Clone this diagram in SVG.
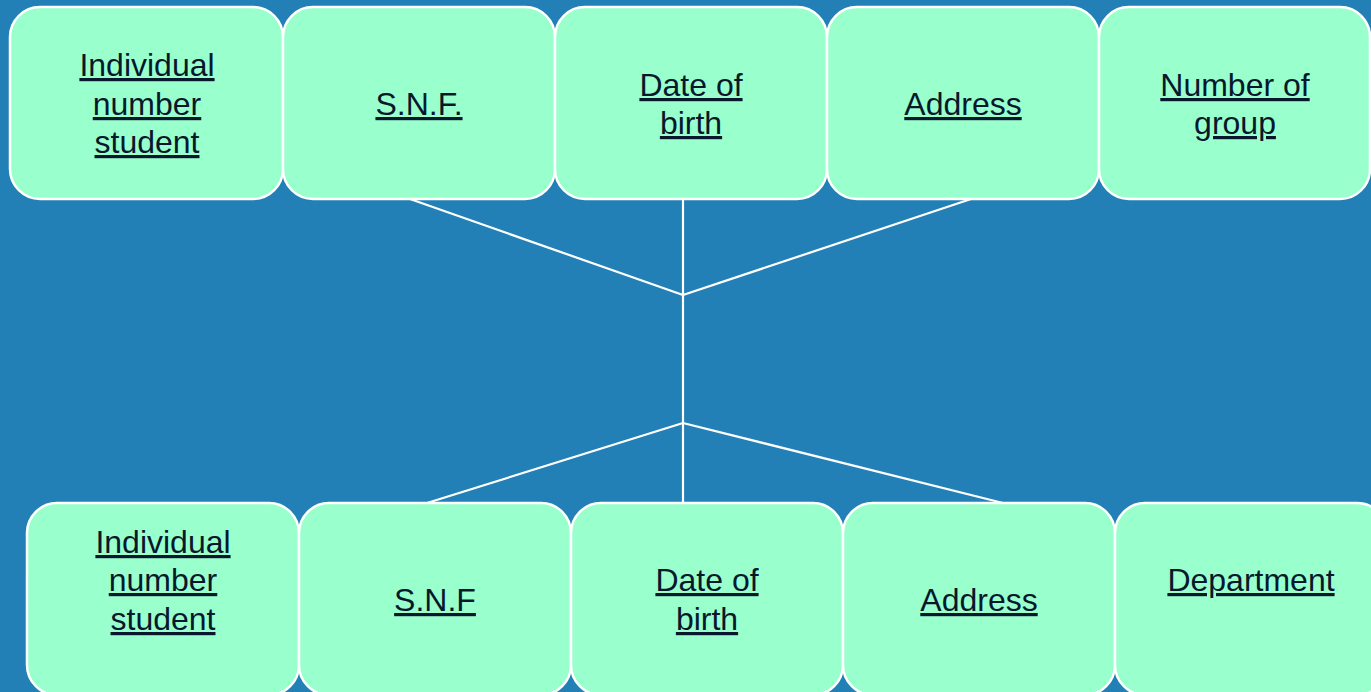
<svg xmlns="http://www.w3.org/2000/svg" width="1371" height="692" viewBox="0 0 1371 692">
<style>
.box{fill:#99ffcc;stroke:#ffffff;stroke-width:2.5}
.lbl{font-family:"Liberation Sans",Arial,sans-serif;font-size:32px;fill:#08182c;text-anchor:middle;text-decoration:underline}
.conn{stroke:#ffffff;stroke-width:2.2;fill:none}
</style>
<rect x="0" y="0" width="1371" height="692" fill="#2280b6"/>
<g id="connectors">
<line class="conn" x1="410" y1="199" x2="683" y2="295"/>
<line class="conn" x1="683" y1="199" x2="683" y2="295"/>
<line class="conn" x1="971" y1="199" x2="683" y2="295"/>
<line class="conn" x1="683" y1="295" x2="683" y2="423"/>
<line class="conn" x1="683" y1="423" x2="427" y2="503"/>
<line class="conn" x1="683" y1="423" x2="683" y2="503"/>
<line class="conn" x1="683" y1="423" x2="1003" y2="503"/>
</g>
<g id="t1"><rect class="box" x="10" y="7" width="273" height="192" rx="30"/><text class="lbl" x="147" y="76">Individual</text><text class="lbl" x="147" y="115">number</text><text class="lbl" x="147" y="153">student</text></g>
<g id="t2"><rect class="box" x="283" y="7" width="272" height="192" rx="30"/><text class="lbl" x="419" y="115">S.N.F.</text></g>
<g id="t3"><rect class="box" x="555" y="7" width="272" height="192" rx="30"/><text class="lbl" x="691" y="96">Date of</text><text class="lbl" x="691" y="134">birth</text></g>
<g id="t4"><rect class="box" x="827" y="7" width="272" height="192" rx="30"/><text class="lbl" x="963" y="115">Address</text></g>
<g id="t5"><rect class="box" x="1099" y="7" width="271" height="192" rx="30"/><text class="lbl" x="1235" y="96">Number of</text><text class="lbl" x="1235" y="134">group</text></g>
<g id="b1"><rect class="box" x="27" y="503" width="272" height="192" rx="30"/><text class="lbl" x="163" y="553">Individual</text><text class="lbl" x="163" y="591">number</text><text class="lbl" x="163" y="630">student</text></g>
<g id="b2"><rect class="box" x="299" y="503" width="272" height="192" rx="30"/><text class="lbl" x="435" y="611">S.N.F</text></g>
<g id="b3"><rect class="box" x="571" y="503" width="272" height="192" rx="30"/><text class="lbl" x="707" y="591">Date of</text><text class="lbl" x="707" y="630">birth</text></g>
<g id="b4"><rect class="box" x="843" y="503" width="272" height="192" rx="30"/><text class="lbl" x="979" y="611">Address</text></g>
<g id="b5"><rect class="box" x="1115" y="503" width="272" height="192" rx="30"/><text class="lbl" x="1251" y="591">Department</text></g>
</svg>
